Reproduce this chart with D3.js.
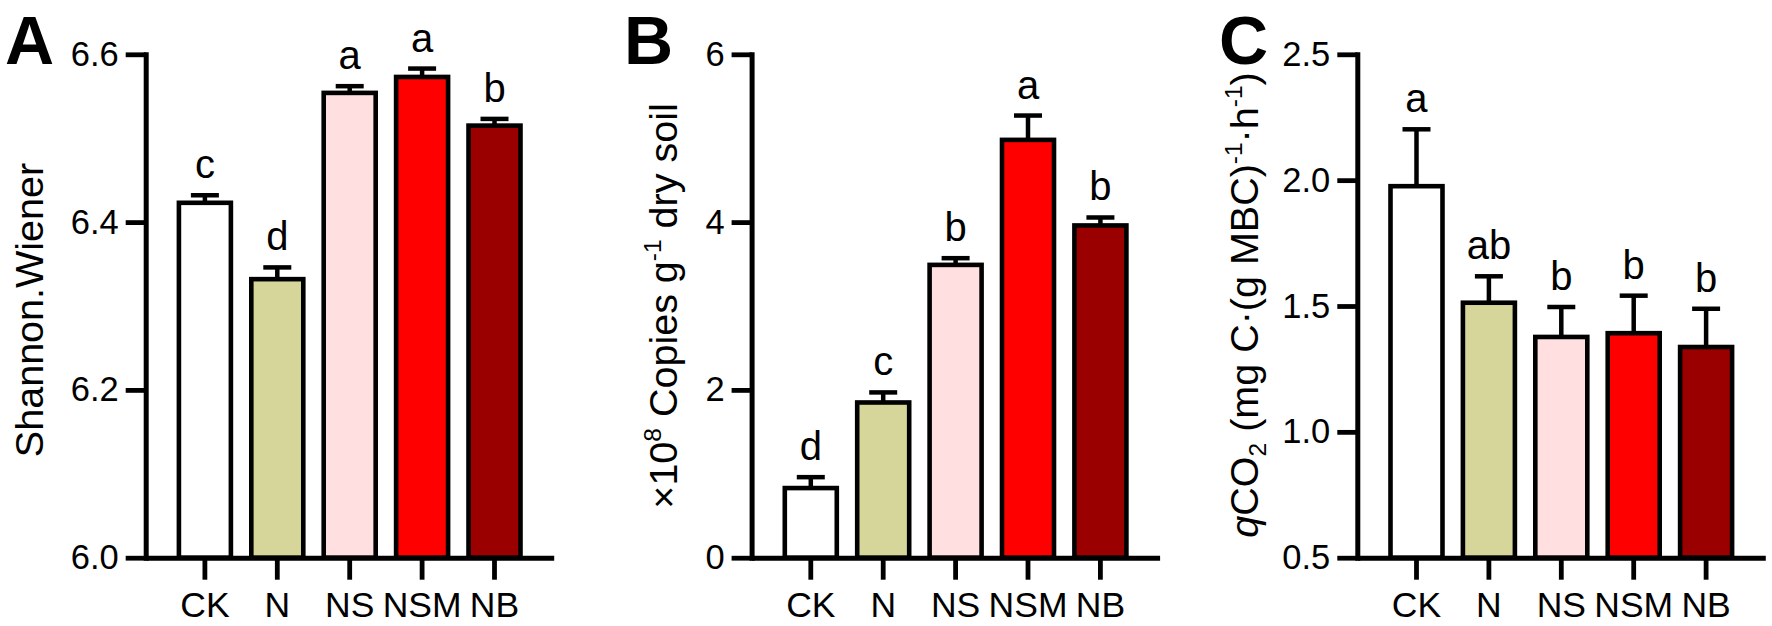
<!DOCTYPE html>
<html>
<head>
<meta charset="utf-8">
<script src="https://cdn.jsdelivr.net/npm/d3@7"></script>
<style>
html, body { margin: 0; padding: 0; background: #ffffff; }
svg { display: block; }
text { font-family: "Liberation Sans", Arial, Helvetica, sans-serif; fill: #000; }
</style>
</head>
<body>
<svg id="chart" width="1772" height="626"></svg>
<script>
// ---------------- DATA ----------------
const categories = ["CK", "N", "NS", "NSM", "NB"];
const barColors = ["#ffffff", "#d6d69b", "#ffdfe0", "#ff0000", "#9b0000"];

// Panel A: Shannon.Wiener
const shannonMean = [6.423, 6.332, 6.554, 6.573, 6.515];
const shannonErr = [0.009, 0.014, 0.008, 0.010, 0.008];
const shannonLetters = ["c", "d", "a", "a", "b"];
const shannonTicks = [6.0, 6.2, 6.4, 6.6];

// Panel B: x10^8 copies g-1 dry soil
const copiesMean = [0.83, 1.85, 3.49, 4.98, 3.96];
const copiesErr = [0.13, 0.12, 0.08, 0.29, 0.095];
const copiesLetters = ["d", "c", "b", "a", "b"];
const copiesTicks = [0, 2, 4, 6];

// Panel C: qCO2
const qco2Mean = [1.976, 1.513, 1.377, 1.392, 1.337];
const qco2Err = [0.226, 0.105, 0.119, 0.149, 0.152];
const qco2Letters = ["a", "ab", "b", "b", "b"];
const qco2Ticks = [0.5, 1.0, 1.5, 2.0, 2.5];

// Axis titles (pieces: normal / sup / sub / italic)
const titleA = [{ t: "Shannon.Wiener" }];
const titleB = [{ t: "\u00d710" }, { t: "8", s: "sup" }, { t: " Copies g" }, { t: "-1", s: "sup" }, { t: " dry soil" }];
const titleC = [{ t: "q", it: true }, { t: "CO" }, { t: "2", s: "sub" }, { t: " (mg C\u00b7(g MBC)" }, { t: "-1", s: "sup" }, { t: "\u00b7h" }, { t: "-1", s: "sup" }, { t: ")" }];

// ---------------- LAYOUT ----------------
const svg = d3.select("#chart");
const yTop = 54.3, yBot = 557.7;
const plotW = 408;
const tickFont = 34.5, catFont = 35.5, sigFont = 40, titleFont = 39.5, letterFont = 68;

const panels = [
  { letter: "A", lx: 5, x0: 145.7, tx: 43, ty: 310, mean: shannonMean, err: shannonErr, sig: shannonLetters,
    domain: [6.0, 6.6], ticks: shannonTicks, fmt: d3.format(".1f"), title: titleA },
  { letter: "B", lx: 624, x0: 751.6, tx: 677, ty: 306, mean: copiesMean, err: copiesErr, sig: copiesLetters,
    domain: [0, 6], ticks: copiesTicks, fmt: d3.format("d"), title: titleB },
  { letter: "C", lx: 1219, x0: 1357.3, tx: 1258, ty: 305, mean: qco2Mean, err: qco2Err, sig: qco2Letters,
    domain: [0.5, 2.5], ticks: qco2Ticks, fmt: d3.format(".1f"), title: titleC }
];

function drawPanel(p) {
  const g = svg.append("g");
  const x = d3.scaleBand().domain(categories)
    .range([p.x0, p.x0 + plotW]).paddingInner(0.282).paddingOuter(0.4586);
  const y = d3.scaleLinear().domain(p.domain).range([yBot, yTop]);
  const idx = categories.map((d, i) => i);

  // bars
  g.selectAll("rect.bar").data(idx).join("rect")
    .attr("class", "bar")
    .attr("x", i => x(categories[i]))
    .attr("width", x.bandwidth())
    .attr("y", i => y(p.mean[i]))
    .attr("height", i => yBot - y(p.mean[i]))
    .attr("fill", i => barColors[i])
    .attr("stroke", "#000")
    .attr("stroke-width", 4.6);

  // error bars (upper only)
  const cx = i => x(categories[i]) + x.bandwidth() / 2;
  g.selectAll("line.err").data(idx).join("line")
    .attr("class", "err")
    .attr("x1", cx).attr("x2", cx)
    .attr("y1", i => y(p.mean[i]))
    .attr("y2", i => y(p.mean[i] + p.err[i]))
    .attr("stroke", "#000").attr("stroke-width", 4.5);
  g.selectAll("line.cap").data(idx).join("line")
    .attr("class", "cap")
    .attr("x1", i => cx(i) - 14).attr("x2", i => cx(i) + 14)
    .attr("y1", i => y(p.mean[i] + p.err[i]))
    .attr("y2", i => y(p.mean[i] + p.err[i]))
    .attr("stroke", "#000").attr("stroke-width", 4.5);

  // significance letters
  g.selectAll("text.sig").data(idx).join("text")
    .attr("class", "sig")
    .attr("x", cx)
    .attr("y", i => y(p.mean[i] + p.err[i]) - 17)
    .attr("text-anchor", "middle")
    .style("font-size", sigFont + "px")
    .text(i => p.sig[i]);

  // y axis
  const ya = d3.axisLeft(y).tickValues(p.ticks).tickFormat(p.fmt)
    .tickSize(20).tickSizeOuter(0).tickPadding(7);
  const gy = g.append("g").attr("transform", `translate(${p.x0},0)`).call(ya);
  gy.select(".domain").attr("stroke", "#000").attr("stroke-width", 5).attr("stroke-linecap", "square");
  gy.selectAll(".tick line").attr("stroke", "#000").attr("stroke-width", 4.8);
  gy.selectAll(".tick text").style("font-size", tickFont + "px").attr("fill", "#000")
    .style("font-family", '"Liberation Sans", Arial, Helvetica, sans-serif');

  // x axis
  const xa = d3.axisBottom(x).tickSize(22).tickSizeOuter(0);
  const gx = g.append("g").attr("transform", `translate(0,${yBot})`).call(xa);
  gx.select(".domain").attr("stroke", "#000").attr("stroke-width", 5);
  gx.selectAll(".tick line").attr("stroke", "#000").attr("stroke-width", 4.8);
  gx.selectAll(".tick text").attr("y", 59).attr("dy", null)
    .style("font-size", catFont + "px").attr("fill", "#000")
    .style("font-family", '"Liberation Sans", Arial, Helvetica, sans-serif');

  // axis title (rotated)
  const t = g.append("text")
    .attr("transform", `translate(${p.tx},${p.ty}) rotate(-90)`)
    .attr("text-anchor", "middle")
    .style("font-size", titleFont + "px");
  let shift = 0;
  p.title.forEach(piece => {
    const ts = t.append("tspan").text(piece.t);
    let target = 0;
    if (piece.s === "sup") { target = -0.4 * titleFont; ts.style("font-size", (titleFont * 0.62) + "px"); }
    if (piece.s === "sub") { target = 0.2 * titleFont; ts.style("font-size", (titleFont * 0.62) + "px"); }
    if (piece.it) ts.style("font-style", "italic");
    const dy = target - shift;
    if (dy !== 0) ts.attr("dy", dy);
    shift = target;
  });

  // panel letter
  g.append("text")
    .attr("x", p.lx).attr("y", 64)
    .style("font-size", letterFont + "px")
    .style("font-weight", "bold")
    .text(p.letter);
}

panels.forEach(drawPanel);
</script>
</body>
</html>
